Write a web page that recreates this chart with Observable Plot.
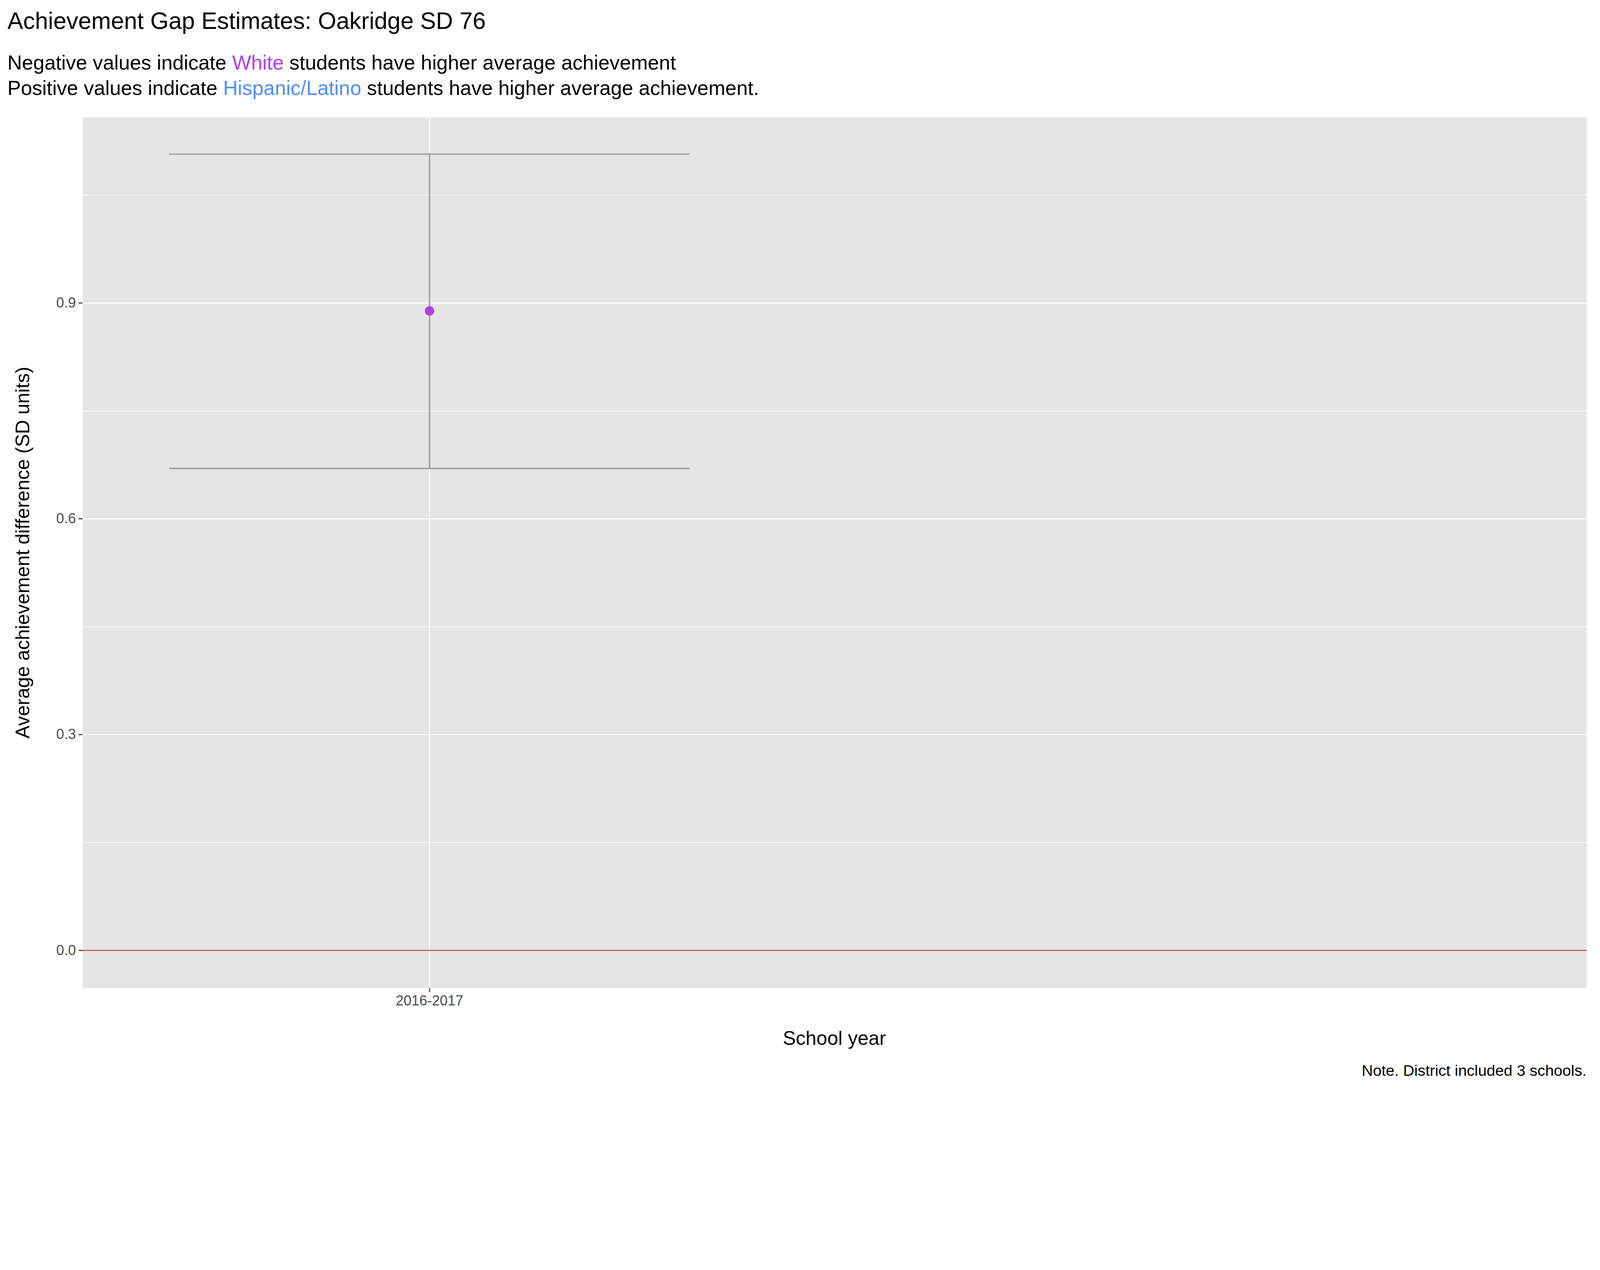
<!DOCTYPE html>
<html><head><meta charset="utf-8">
<script src="https://cdn.jsdelivr.net/npm/d3@7"></script>
<script src="https://cdn.jsdelivr.net/npm/@observablehq/plot@0.6"></script>
<style>
html,body{margin:0;padding:0;background:#fff;overflow:hidden}
#wrap{font-family:"Liberation Sans",Arial,sans-serif;width:4750px;height:3250px;position:absolute;left:0;top:0;transform-origin:0 0;background:#fff}
.t{position:absolute;white-space:nowrap;color:#000}
</style></head><body>
<div id="wrap">
<div class="t" style="left:22px;top:22px;font-size:70px">Achievement Gap Estimates: Oakridge SD 76</div>
<div class="t" style="left:22px;top:148px;font-size:60px;line-height:76px">Negative values indicate <span style="color:#b13fe8">White</span> students have higher average achievement<br>Positive values indicate <span style="color:#4f8ff7">Hispanic/Latino</span> students have higher average achievement.</div>
<div class="t" style="left:67px;top:1640px;font-size:58px;transform:translate(-50%,-50%) rotate(-90deg)">Average achievement difference (SD units)</div>
<div class="t" style="left:2477px;top:3080px;font-size:58px;transform:translate(-50%,-50%)">School year</div>
<div class="t" style="right:40px;top:3150px;font-size:46px">Note. District included 3 schools.</div>
<div id="chart" style="position:absolute;left:0;top:320px"></div>
</div>
<script>
const years = ["2016-2017"];
const xIndex = [0];
const estimate = [0.889];
const lower = [0.670];
const upper = [1.107];
const yMajor = [0, 0.3, 0.6, 0.9];
const yMinor = [0.15, 0.45, 0.75, 1.05];
const data = years.map((y, i) => ({year: y, x: xIndex[i], est: estimate[i], lo: lower[i], hi: upper[i]}));

const chart = Plot.plot({
  width: 4750, height: 2880,
  marginLeft: 245, marginRight: 40, marginTop: 28, marginBottom: 268,
  style: {fontFamily: '"Liberation Sans", Arial, sans-serif', background: "transparent"},
  x: {domain: [-1.333, 4.447], axis: null},
  y: {domain: [-0.0525, 1.158], axis: null},
  marks: [
    Plot.frame({fill: "#e5e5e5"}),
    Plot.ruleY(yMinor, {stroke: "#fff", strokeWidth: 1.6}),
    Plot.ruleY(yMajor, {stroke: "#fff", strokeWidth: 3.2}),
    Plot.ruleX(xIndex, {stroke: "#fff", strokeWidth: 3.2}),
    Plot.ruleY([0], {stroke: "#c0504d", strokeWidth: 3.2}),
    Plot.ruleX(data, {x: "x", y1: "lo", y2: "hi", stroke: "#a3a3a3", strokeWidth: 4.5}),
    Plot.ruleY(data, {y: "lo", x1: d => d.x - 1, x2: d => d.x + 1, stroke: "#a3a3a3", strokeWidth: 4.5}),
    Plot.ruleY(data, {y: "hi", x1: d => d.x - 1, x2: d => d.x + 1, stroke: "#a3a3a3", strokeWidth: 4.5}),
    Plot.dot(data, {x: "x", y: "est", r: 14, fill: "#b13fe8", stroke: null}),
    Plot.axisY({ticks: yMajor, tickFormat: d3.format(".1f"), tickSize: 12, tickPadding: 8, fontSize: 42, label: null, color: "#4d4d4d", stroke: "#333", strokeWidth: 3}),
    Plot.axisX({ticks: xIndex, tickFormat: i => years[i], tickSize: 12, tickPadding: 10, fontSize: 42, label: null, color: "#4d4d4d", stroke: "#333", strokeWidth: 3})
  ]
});
document.getElementById("chart").appendChild(chart);
function fit(){
  const s = Math.min(window.innerWidth / 4750, window.innerHeight / 3250);
  document.getElementById("wrap").style.transform = "scale(" + s + ")";
}
fit();
window.addEventListener("resize", fit);
</script>
</body></html>
